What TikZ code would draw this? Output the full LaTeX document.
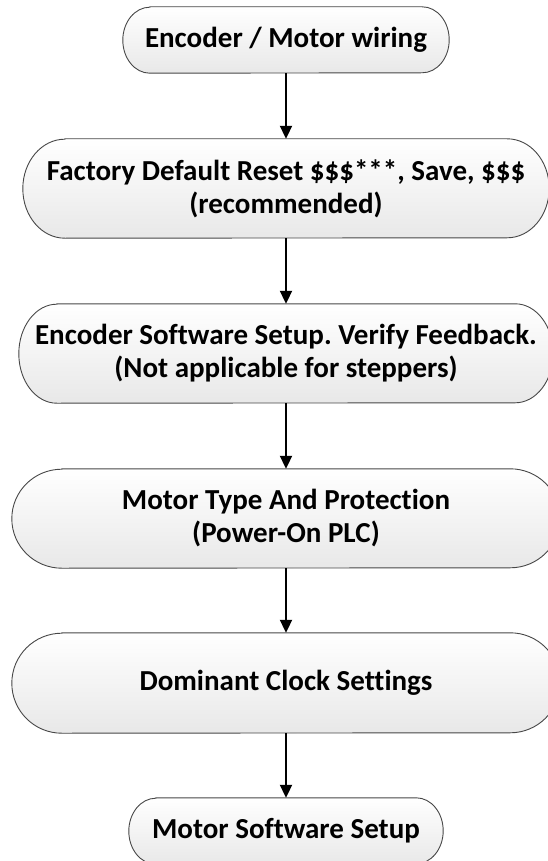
\documentclass[tikz,border=0pt]{standalone}
\usepackage{fontspec}
\setmainfont{Carlito}[Ligatures=NoCommon]
\usetikzlibrary{arrows.meta,backgrounds}
\frenchspacing
\tikzset{
  txtbox/.style={font=\bfseries\fontsize{29}{33}\selectfont, align=center, inner sep=0pt, draw=none},
  termshape/.style={top color=white, bottom color=black!9, draw=black!72, line width=0.9pt},
  flow/.style={draw=black, line width=2pt, -{Triangle[length=13pt,width=12pt]}}
}
% #1 node name, #2 end x radius, #3 half height
\newcommand\termbox[3]{%
  \path[termshape] ([xshift=#2pt]#1.north west) -- ([xshift=-#2pt]#1.north east)
    arc[start angle=90, end angle=-90, x radius=#2pt, y radius=#3pt]
    -- ([xshift=#2pt]#1.south west)
    arc[start angle=270, end angle=90, x radius=#2pt, y radius=#3pt] -- cycle;}
\begin{document}
\begin{tikzpicture}[x=1pt,y=-1pt]
\useasboundingbox (0,0) rectangle (548,861);
\node[txtbox, minimum width=326pt, minimum height=66pt] (b1) at (286,40) {Encoder / Motor wiring};
\node[txtbox, minimum width=526pt, minimum height=99pt] (b2) at (286,188.5) {Factory Default Reset \$\$\$***, Save, \$\$\$\\(recommended)};
\node[txtbox, minimum width=534pt, minimum height=99pt] (b3) at (286,353.5) {Encoder Software Setup. Verify Feedback.\\(Not applicable for steppers)};
\node[txtbox, minimum width=548pt, minimum height=99pt] (b4) at (286,518.5) {Motor Type And Protection\\(Power-On PLC)};
\node[txtbox, minimum width=548pt, minimum height=100pt] (b5) at (286,683) {Dominant Clock Settings};
\node[txtbox, minimum width=314pt, minimum height=66pt] (b6) at (286,831) {Motor Software Setup};
\begin{scope}[on background layer]
\termbox{b1}{27}{33}
\termbox{b2}{42}{49.5}
\termbox{b3}{38}{49.5}
\termbox{b4}{50}{49.5}
\termbox{b5}{50}{50}
\termbox{b6}{27}{33}
\end{scope}
\draw[flow] (b1.south) -- (b2.north);
\draw[flow] (b2.south) -- (b3.north);
\draw[flow] (b3.south) -- (b4.north);
\draw[flow] (b4.south) -- (b5.north);
\draw[flow] (b5.south) -- (b6.north);
\end{tikzpicture}
\end{document}
